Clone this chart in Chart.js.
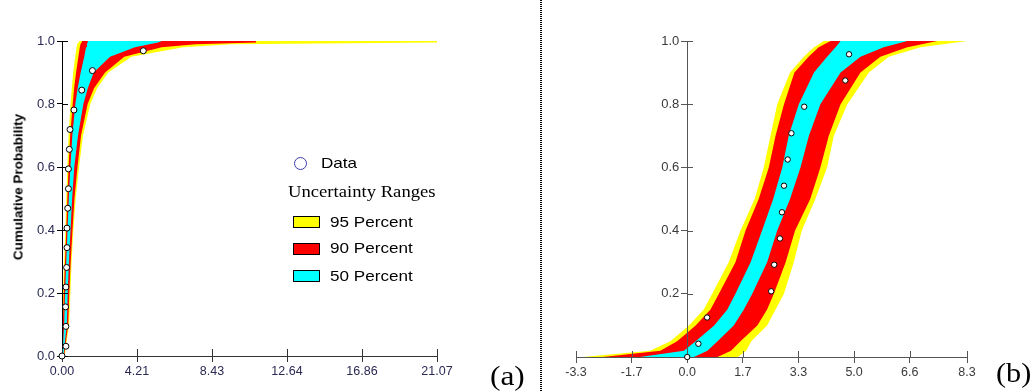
<!DOCTYPE html>
<html><head><meta charset="utf-8">
<script src="https://cdn.jsdelivr.net/npm/chart.js@4.4.1/dist/chart.umd.min.js"></script>
<style>
html,body{margin:0;padding:0;background:#fff;}
body{width:1033px;height:391px;position:relative;overflow:hidden;font-family:"Liberation Sans",Arial,sans-serif;}
#ca{position:absolute;left:0;top:0;}
#cb{position:absolute;left:541px;top:0;}
.sep{position:absolute;left:540px;top:0;width:2px;height:391px;background:repeating-linear-gradient(to bottom,#000 0 1px,transparent 1px 2px);}
.ytitle{position:absolute;left:18px;top:187px;transform:translate(-50%,-50%) rotate(-90deg);font:bold 13.5px "Liberation Sans",Arial,sans-serif;white-space:nowrap;color:#000;}
.lg{position:absolute;white-space:nowrap;transform-origin:0 50%;color:#000;}
.sans{font-family:"Liberation Sans",Arial,sans-serif;font-size:15px;line-height:16px;transform:scaleX(1.14);}
.serif{font-family:"Liberation Serif","Times New Roman",serif;}
.box{position:absolute;width:27px;height:12px;border:1px solid #000;box-sizing:border-box;}
.circ{position:absolute;left:294px;top:157px;width:13px;height:13px;border:1.5px solid #3d3dab;border-radius:50%;box-sizing:border-box;}
</style></head><body>
<canvas id="ca" width="541" height="391"></canvas>
<canvas id="cb" width="492" height="391"></canvas>
<div class="sep"></div>
<div class="ytitle">Cumulative Probability</div>
<div class="circ"></div>
<div class="lg sans" style="left:321px;top:155px;">Data</div>
<div class="lg serif" style="left:288px;top:182px;font-size:16.5px;line-height:19px;transform:scaleX(1.13);">Uncertainty Ranges</div>
<div class="box" style="left:293px;top:216px;background:#ffff00;"></div>
<div class="box" style="left:293px;top:243px;background:#ff0000;"></div>
<div class="box" style="left:293px;top:270px;background:#00ffff;"></div>
<div class="lg sans" style="left:330px;top:214px;">95 Percent</div>
<div class="lg sans" style="left:330px;top:240px;">90 Percent</div>
<div class="lg sans" style="left:330px;top:268px;">50 Percent</div>
<div class="lg serif" style="left:490px;top:360px;font-size:28px;line-height:32px;transform:scaleX(1.12);">(a)</div>
<div class="lg serif" style="left:996px;top:357px;font-size:28px;line-height:32px;transform:scaleX(1.08);">(b)</div>
<script>
// ---------- chart (a) ----------
const aXTicks = [0, 4.214, 8.428, 12.642, 16.856, 21.07];
const aXLabels = ["0.00", "4.21", "8.43", "12.64", "16.86", "21.07"];
const aYTicks = [0, 0.2, 0.4, 0.6, 0.8, 1.0];
const aYLabels = ["0.0", "0.2", "0.4", "0.6", "0.8", "1.0"];
const probA = [0, 0.1, 0.2, 0.3, 0.4, 0.5, 0.6, 0.7, 0.8, 0.85, 0.9, 0.95, 0.98, 0.99, 0.995, 1.0];
const a95Lo = [0.00, 0.02, 0.06, 0.12, 0.19, 0.24, 0.30, 0.37, 0.48, 0.55, 0.63, 0.74, 0.82, 0.86, 0.90, 0.95];
const a90Lo = [0.01, 0.05, 0.10, 0.17, 0.24, 0.30, 0.37, 0.46, 0.60, 0.68, 0.79, 0.92, 1.00, 1.04, 1.08, 1.12];
const a50Lo = [0.03, 0.12, 0.17, 0.24, 0.31, 0.38, 0.47, 0.58, 0.75, 0.88, 1.05, 1.25, 1.35, 1.40, 1.43, 1.45];
const a50Hi = [0.08, 0.27, 0.32, 0.39, 0.48, 0.57, 0.69, 0.90, 1.20, 1.45, 1.78, 2.70, 4.10, 4.90, 5.40, 5.60];
const a90Hi = [0.12, 0.35, 0.41, 0.49, 0.59, 0.70, 0.87, 1.07, 1.44, 1.80, 2.42, 3.50, 5.60, 7.50, 10.90, 10.90];
const a95Hi = [0.15, 0.40, 0.47, 0.54, 0.64, 0.77, 0.96, 1.18, 1.59, 1.97, 2.60, 3.90, 6.80, 9.50, 21.07, 21.07];
const aDataX = [0.00, 0.22, 0.22, 0.20, 0.22, 0.26, 0.28, 0.28, 0.32, 0.36, 0.36, 0.41, 0.45, 0.67, 1.11, 1.71, 4.57];
const aDataY = [0.000, 0.031, 0.094, 0.156, 0.219, 0.281, 0.344, 0.406, 0.469, 0.531, 0.594, 0.656, 0.719, 0.781, 0.844, 0.906, 0.969];

// ---------- chart (b) ----------
const bXTicks = [-3.3, -1.65, 0, 1.65, 3.3, 4.95, 6.6, 8.3];
const bXLabels = ["-3.3", "-1.7", "0.0", "1.7", "3.3", "5.0", "6.6", "8.3"];
const bYTicks = [0.2, 0.4, 0.6, 0.8, 1.0];
const bYLabels = ["0.2", "0.4", "0.6", "0.8", "1.0"];
const probB = [0, 0.02, 0.05, 0.1, 0.15, 0.2, 0.3, 0.4, 0.5, 0.6, 0.7, 0.8, 0.9, 0.95, 0.98, 1.0];
const b95Lo = [-3.10, -1.10, -0.50, 0.05, 0.49, 0.74, 1.23, 1.58, 2.00, 2.27, 2.47, 2.67, 3.05, 3.46, 3.76, 4.05];
const b90Lo = [-2.50, -0.80, -0.30, 0.25, 0.69, 0.94, 1.43, 1.73, 2.12, 2.42, 2.62, 2.87, 3.18, 3.60, 3.90, 4.25];
const b50Lo = [-1.40, -0.10, 0.25, 0.80, 1.19, 1.43, 1.88, 2.22, 2.55, 2.82, 3.01, 3.31, 3.76, 4.15, 4.40, 4.55];
const b50Hi = [0.20, 0.60, 0.90, 1.38, 1.68, 1.93, 2.37, 2.67, 3.05, 3.36, 3.61, 3.95, 4.55, 5.14, 5.83, 6.53];
const b90Hi = [0.90, 1.30, 1.58, 2.08, 2.37, 2.57, 2.92, 3.20, 3.65, 3.95, 4.20, 4.55, 5.14, 5.73, 6.53, 7.42];
const b95Hi = [1.50, 1.75, 1.90, 2.37, 2.62, 2.87, 3.16, 3.40, 3.80, 4.15, 4.35, 4.75, 5.39, 5.98, 6.92, 8.30];
const bDataX = [0.00, 0.33, 0.59, 2.49, 2.58, 2.75, 2.81, 2.87, 2.98, 3.09, 3.47, 4.69, 4.80];
const bDataY = [0.000, 0.042, 0.125, 0.208, 0.292, 0.375, 0.458, 0.542, 0.625, 0.708, 0.792, 0.875, 0.958];

const FONT = "'Liberation Sans', Arial, sans-serif";
const YELLOW = '#ffff00', RED = '#ff0000', CYAN = '#00ffff';

function pts(xs, ys) { return xs.map((x, i) => ({x: x, y: ys[i]})); }
// left (higher-probability) edge continues flat at 1 to the end of the right edge
function leftEdge(lo, hi, ys) { const p = pts(lo, ys); p.push({x: hi[hi.length - 1], y: 1}); return p; }
// right edge starts flat at 0 from the start of the left edge
function rightEdge(lo, hi, ys) { const p = pts(hi, ys); p.unshift({x: lo[0], y: 0}); return p; }

function bandSets(lo95, hi95, lo90, hi90, lo50, hi50, ys) {
  const base = {borderWidth: 0, borderColor: 'rgba(0,0,0,0)', pointRadius: 0, tension: 0};
  return [
    Object.assign({}, base, {data: leftEdge(lo95, hi95, ys), fill: '+1', backgroundColor: YELLOW, order: 3}),
    Object.assign({}, base, {data: rightEdge(lo95, hi95, ys), fill: false, order: 3}),
    Object.assign({}, base, {data: leftEdge(lo90, hi90, ys), fill: '+1', backgroundColor: RED, order: 2}),
    Object.assign({}, base, {data: rightEdge(lo90, hi90, ys), fill: false, order: 2}),
    Object.assign({}, base, {data: leftEdge(lo50, hi50, ys), fill: '+1', backgroundColor: CYAN, order: 1}),
    Object.assign({}, base, {data: rightEdge(lo50, hi50, ys), fill: false, order: 1})
  ];
}

// draws axis lines above the bands (below the data points), the inner halves of the tick marks,
// and (for an axis placed at x = 0) its tick labels to the left of the axis
const axisOverlay = {
  id: 'axisOverlay',
  afterDatasetDraw(chart, args, opts) {
    if (args.index !== opts.afterIndex) return;
    const ctx = chart.ctx, xs = chart.scales.x, ys = chart.scales.y, area = chart.chartArea;
    xs.drawBorder(); ys.drawBorder();
    const yAxisX = (typeof ys.options.position === 'object') ? Math.round(xs.getPixelForValue(0)) : area.left;
    ctx.save();
    ctx.lineWidth = 1;
    ctx.beginPath();
    ctx.strokeStyle = opts.xColor;
    xs.ticks.forEach(t => { const p = Math.round(xs.getPixelForValue(t.value)) + 0.5; ctx.moveTo(p, area.bottom); ctx.lineTo(p, area.bottom - opts.x); });
    ctx.stroke();
    ctx.beginPath();
    ctx.strokeStyle = opts.yColor;
    ys.ticks.forEach(t => { const p = Math.round(ys.getPixelForValue(t.value)) + 0.5; ctx.moveTo(yAxisX, p); ctx.lineTo(yAxisX + opts.y, p); });
    ctx.stroke();
    ctx.restore();
  },
  afterDraw(chart, args, opts) {
    if (!opts.yLabels) return;
    const ctx = chart.ctx, xs = chart.scales.x, ys = chart.scales.y;
    const yAxisX = xs.getPixelForValue(0);
    ctx.save();
    ctx.font = opts.labelFont;
    ctx.fillStyle = opts.labelColor;
    ctx.textAlign = 'right';
    ctx.textBaseline = 'middle';
    ys.ticks.forEach((t, i) => ctx.fillText(opts.yLabels[i], yAxisX - opts.labelGap, ys.getPixelForValue(t.value)));
    ctx.restore();
  }
};

function pointSet(xs, ys, r) {
  return {data: pts(xs, ys), showLine: false, fill: false, pointRadius: r, pointBackgroundColor: '#fff',
          pointBorderColor: '#000', pointBorderWidth: 1, borderWidth: 0, order: 0, clip: false};
}

// Chart (a)
new Chart(document.getElementById('ca'), {
  type: 'line',
  data: {datasets: [pointSet(aDataX, aDataY, 3)].concat(bandSets(a95Lo, a95Hi, a90Lo, a90Hi, a50Lo, a50Hi, probA))},
  options: {
    responsive: false, animation: false, devicePixelRatio: 1,
    layout: {padding: {top: 41, right: 104, bottom: 0, left: 0}},
    plugins: {legend: {display: false}, tooltip: {enabled: false},
              axisOverlay: {afterIndex: 5, x: 7, y: 6, xColor: '#333', yColor: '#000'}},
    scales: {
      x: {type: 'linear', min: 0, max: 21.07,
          afterBuildTicks: s => { s.ticks = aXTicks.map(v => ({value: v})); },
          afterFit: s => { s.height = 35; },
          ticks: {autoSkip: false, maxRotation: 0, padding: 2, color: '#2a2a55', font: {family: FONT, size: 12.5},
                  callback: (v, i) => aXLabels[i]},
          grid: {drawOnChartArea: false, tickLength: 6, color: '#333'},
          border: {color: '#333', width: 1}},
      y: {type: 'linear', min: 0, max: 1,
          afterBuildTicks: s => { s.ticks = aYTicks.map(v => ({value: v})); },
          afterFit: s => { s.width = 62; },
          ticks: {autoSkip: false, padding: 2, color: '#2a2a55', font: {family: FONT, size: 13},
                  callback: (v, i) => aYLabels[i]},
          grid: {drawOnChartArea: false, tickLength: 5, color: '#000'},
          border: {color: '#000', width: 1}}
    }
  },
  plugins: [axisOverlay]
});

// Chart (b)
new Chart(document.getElementById('cb'), {
  type: 'line',
  data: {datasets: [pointSet(bDataX, bDataY, 2.7)].concat(bandSets(b95Lo, b95Hi, b90Lo, b90Hi, b50Lo, b50Hi, probB))},
  options: {
    responsive: false, animation: false, devicePixelRatio: 1,
    layout: {padding: {top: 41, right: 66, bottom: 0, left: 35}},
    plugins: {legend: {display: false}, tooltip: {enabled: false},
              axisOverlay: {afterIndex: 5, x: 6, y: 6, xColor: '#555', yColor: '#555',
                            yLabels: bYLabels, labelGap: 8, labelColor: '#3a3a3a', labelFont: "13px " + FONT}},
    scales: {
      x: {type: 'linear', min: -3.3, max: 8.3,
          afterBuildTicks: s => { s.ticks = bXTicks.map(v => ({value: v})); },
          afterFit: s => { s.height = 34; },
          ticks: {autoSkip: false, maxRotation: 0, padding: 2, color: '#3a3a3a', font: {family: FONT, size: 12.5},
                  callback: (v, i) => bXLabels[i]},
          grid: {drawOnChartArea: false, tickLength: 6, color: '#555'},
          border: {color: '#555', width: 1}},
      y: {type: 'linear', axis: 'y', position: {x: 0}, min: 0, max: 1,
          afterBuildTicks: s => { s.ticks = bYTicks.map(v => ({value: v})); },
          ticks: {display: false},
          grid: {drawOnChartArea: false, tickLength: 6, color: '#555'},
          border: {color: '#555', width: 1}}
    }
  },
  plugins: [axisOverlay]
});
</script>
</body></html>
